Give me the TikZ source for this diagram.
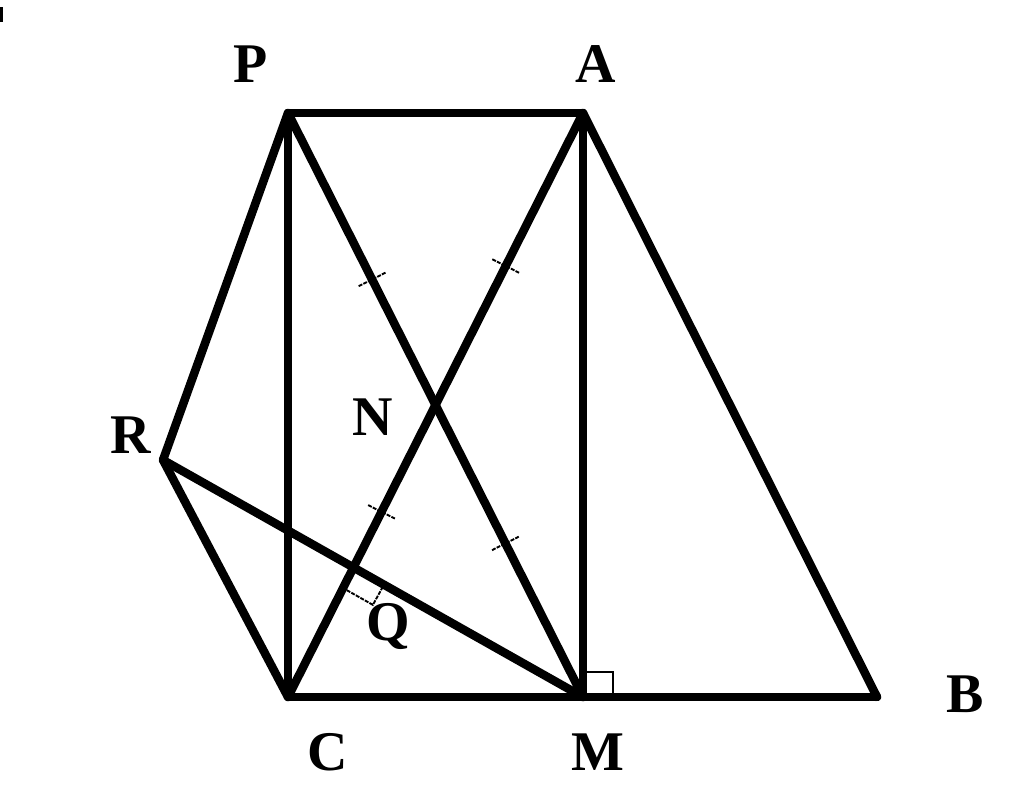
\documentclass[tikz,border=0pt]{standalone}
\usepackage{fontspec}
\setmainfont{Liberation Serif}
\usetikzlibrary{calc}
\begin{document}
\begin{tikzpicture}[x=1pt,y=-1pt,
  edge/.style={line width=8.5pt,line cap=round,line join=round},
  tickmark/.style={line width=1.9pt,dash pattern=on 4pt off 1.2pt},
  rmark/.style={line width=1.6pt},
  lbl/.style={font=\fontsize{56}{56}\selectfont\bfseries,inner sep=0pt,anchor=base}]
\useasboundingbox (0,0) rectangle (1024,805);
\fill (0,7) rectangle (3,22);
% points
\coordinate (P) at (288,113);
\coordinate (A) at (583,113);
\coordinate (C) at (288,697);
\coordinate (M) at (583,697);
\coordinate (B) at (877,697);
\coordinate (R) at (163,460);
\coordinate (N) at (intersection of P--M and A--C);
\coordinate (Q) at (intersection of R--M and A--C);
% edges
\draw[edge] (P) -- (A);
\draw[edge] (P) -- (C);
\draw[edge] (P) -- (R);
\draw[edge] (R) -- (C);
\draw[edge] (R) -- (M);
\draw[edge] (P) -- (M);
\draw[edge] (A) -- (C);
\draw[edge] (A) -- (M);
\draw[edge] (A) -- (B);
\draw[edge] (C) -- (B);
% tick marks
\coordinate (t1) at ($(P)!0.285!(M)$);
\coordinate (t2) at ($(P)!0.737!(M)$);
\coordinate (t3) at ($(A)!0.262!(C)$);
\coordinate (t4) at ($(A)!0.683!(C)$);
\draw[tickmark] ($(t1)!15pt!90:(M)$) -- ($(t1)!15pt!-90:(M)$);
\draw[tickmark] ($(t2)!15pt!90:(M)$) -- ($(t2)!15pt!-90:(M)$);
\draw[tickmark] ($(t3)!15pt!90:(C)$) -- ($(t3)!15pt!-90:(C)$);
\draw[tickmark] ($(t4)!15pt!90:(C)$) -- ($(t4)!15pt!-90:(C)$);
% right angle marks
\coordinate (q0) at ($(Q)!5pt!(M)$);
\coordinate (qa) at ($(q0)!23pt!(C)$);
\coordinate (qb) at ($(q0)!30pt!(M)$);
\draw[tickmark] (qa) -- ($(qa)+(qb)-(q0)$) -- (qb);
\draw[rmark] ($(M)+(0,-25)$) -- ($(M)+(30,-25)$) -- ($(M)+(30,0)$);
% labels
\node[lbl] (lP) at (251,83) {P};
\node[lbl] (lA) at (596,83) {A};
\node[lbl] (lR) at (131,453) {R};
\node[lbl] (lN) at (373,435) {N};
\node[lbl] (lQ) at (388,640) {Q};
\node[lbl] (lC) at (328,770) {C};
\node[lbl] (lM) at (598,770) {M};
\node[lbl] (lB) at (965,712) {B};
\end{tikzpicture}
\end{document}
